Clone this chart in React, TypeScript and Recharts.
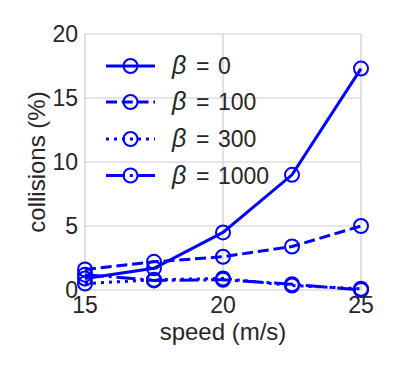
import React from 'react';
import { LineChart, Line, XAxis, YAxis, CartesianGrid, Legend } from 'recharts';

const speeds = [15, 17.5, 20, 22.5, 25];
const beta0 = [0.9, 1.7, 4.5, 9.0, 17.3];
const beta100 = [1.6, 2.2, 2.6, 3.4, 5.0];
const beta300 = [0.5, 0.8, 0.9, 0.35, 0.1];
const beta1000 = [1.2, 0.75, 0.8, 0.45, 0.0];
const xTicks = [15, 20, 25];
const yTicks = [0, 5, 10, 15, 20];
const seriesNames = ['β = 0', 'β = 100', 'β = 300', 'β = 1000'];

const data = speeds.map((s, i) => ({
  speed: s,
  b0: beta0[i],
  b100: beta100[i],
  b300: beta300[i],
  b1000: beta1000[i],
}));

const BLUE = '#0000ff';
const FONT = '"Liberation Sans", Arial, sans-serif';
const TXT = '#262626';
const FS = 23;
const LFS = 24;
const LW = 3;

const series = [
  { key: 'b0', dash: undefined as string | undefined, name: seriesNames[0] },
  { key: 'b100', dash: '11 4.8', name: seriesNames[1] },
  { key: 'b300', dash: '3 5', name: seriesNames[2] },
  { key: 'b1000', dash: '19 4.8 3 4.8', name: seriesNames[3] },
];

const legendRows = [66, 102, 139, 175.5];

const LegendContent = () => (
  <svg width={399} height={372} style={{ position: 'absolute', left: 0, top: 0, pointerEvents: 'none' }}>
    {series.map((s, i) => {
      const y = legendRows[i];
      const label = s.name.split(' = ');
      return (
        <g key={s.key}>
          <line x1={106} x2={155} y1={y} y2={y} stroke={BLUE} strokeWidth={LW} strokeDasharray={s.dash} />
          <circle cx={130.5} cy={y} r={7} fill="none" stroke={BLUE} strokeWidth={2} />
          <text x={172} y={y + 8} fontFamily={FONT} fontSize={FS} fill={TXT}>
            <tspan fontStyle="italic" fontSize={25}>{label[0]}</tspan>
            <tspan x={196}>=</tspan>
            <tspan x={218}>{label[1]}</tspan>
          </text>
        </g>
      );
    })}
  </svg>
);

const YLabel = (props: any) => {
  const vb = props.viewBox || { x: 0, y: 0, width: 0, height: 0 };
  const cx = 45;
  const cy = vb.y + vb.height / 2;
  return (
    <text
      x={cx}
      y={cy}
      transform={`rotate(-90 ${cx} ${cy})`}
      textAnchor="middle"
      fontFamily={FONT}
      fontSize={LFS}
      fill={TXT}
    >
      collisions (%)
    </text>
  );
};

export default function App() {
  return (
    <div style={{ position: 'absolute', left: 0, top: 0, width: 399, height: 372, background: '#fff' }}>
      <LineChart
        width={399}
        height={372}
        data={data}
        margin={{ top: 34, right: 38, bottom: 22, left: 5 }}
      >
        <CartesianGrid stroke="#cccccc" strokeWidth={1.2} />
        <XAxis
          dataKey="speed"
          type="number"
          domain={[15, 25]}
          ticks={xTicks}
          axisLine={false}
          tickLine={false}
          tickSize={0}
          tickMargin={7}
          height={60}
          tick={{ fontFamily: FONT, fontSize: FS, fill: TXT }}
          label={{ value: 'speed (m/s)', position: 'insideBottom', offset: 10, fontFamily: FONT, fontSize: LFS, fill: TXT }}
        />
        <YAxis
          type="number"
          domain={[0, 20]}
          ticks={yTicks}
          axisLine={false}
          tickLine={false}
          tickSize={0}
          tickMargin={7}
          width={80}
          tick={{ fontFamily: FONT, fontSize: FS, fill: TXT }}
          label={{ content: YLabel }}
        />
        <Legend
          layout="vertical"
          align="center"
          verticalAlign="middle"
          wrapperStyle={{ left: 0, top: 0, width: 399, height: 372 }}
          content={LegendContent}
        />
        {series.map((s) => (
          <Line
            key={s.key}
            dataKey={s.key}
            name={s.name}
            stroke={BLUE}
            strokeWidth={LW}
            strokeDasharray={s.dash}
            dot={{ r: 7, fill: 'none', stroke: BLUE, strokeWidth: 2, strokeDasharray: 'none' }}
            activeDot={false}
            isAnimationActive={false}
          />
        ))}
      </LineChart>
    </div>
  );
}
